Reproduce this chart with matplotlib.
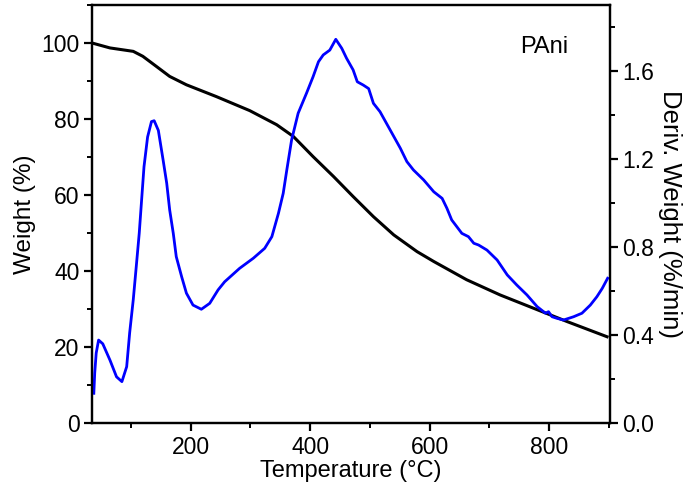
import matplotlib.pyplot as plt
from matplotlib.ticker import MultipleLocator

plt.rcParams['font.family'] = ['Liberation Sans', 'DejaVu Sans']

# TG curve: weight (%)
tg_temp = [35, 65, 104, 120, 143, 165, 193, 243, 299, 344, 372, 405, 439, 472,
           506, 540, 579, 607, 662, 718, 774, 830, 897]
tg_weight = [100, 98.7, 97.8, 96.5, 93.8, 91.2, 89.0, 85.9, 82.2, 78.5, 75.4, 70.1,
             64.9, 59.6, 54.3, 49.5, 45.1, 42.5, 37.7, 33.7, 30.2, 26.7, 22.7]

# DTG curve: derivative weight (%/min)
dtg_temp = [38, 39.5, 42, 46, 53, 65, 76, 85, 93, 98, 104, 109, 114, 118, 122, 128,
            134.5, 139, 146, 154, 160, 165, 171, 176, 185, 193, 204, 218, 232, 246,
            257, 282, 305, 324, 336, 347, 355, 361, 369, 380, 394, 405, 414, 422,
            433, 443, 453, 461, 472, 479, 489, 498, 506, 517, 534, 551, 562, 573,
            590, 607, 621, 629, 637, 654, 665, 674, 682, 696, 713, 730, 746, 763,
            780, 794, 799, 805, 813, 824, 841, 855, 869, 880, 889, 898]
dtg_value = [0.135, 0.227, 0.318, 0.377, 0.36, 0.286, 0.21, 0.188, 0.256, 0.41, 0.56,
             0.71, 0.862, 1.014, 1.165, 1.30, 1.37, 1.374, 1.33, 1.195, 1.09, 0.968,
             0.862, 0.756, 0.665, 0.59, 0.536, 0.517, 0.544, 0.605, 0.642, 0.703,
             0.749, 0.794, 0.847, 0.953, 1.044, 1.15, 1.286, 1.408, 1.499, 1.574,
             1.642, 1.673, 1.695, 1.744, 1.703, 1.658, 1.605, 1.551, 1.536, 1.52,
             1.453, 1.415, 1.332, 1.249, 1.188, 1.15, 1.105, 1.051, 1.021, 0.976,
             0.923, 0.862, 0.847, 0.817, 0.809, 0.786, 0.741, 0.673, 0.627, 0.582,
             0.529, 0.499, 0.506, 0.483, 0.476, 0.468, 0.483, 0.499, 0.536, 0.574,
             0.612, 0.658]

fig = plt.figure(figsize=(6.94, 4.99), dpi=100)
ax = fig.add_axes([0.1326, 0.1523, 0.7464, 0.8377])
ax2 = ax.twinx()

ax.plot(tg_temp, tg_weight, color='black', lw=2.2, zorder=3)
ax2.plot(dtg_temp, dtg_value, color='#0000ff', lw=2.0)

ax.set_xlim(35, 902)
ax.set_ylim(0, 110)
ax2.set_ylim(0, 1.9)

ax.xaxis.set_major_locator(MultipleLocator(200))
ax.xaxis.set_minor_locator(MultipleLocator(100))
ax.yaxis.set_major_locator(MultipleLocator(20))
ax.yaxis.set_minor_locator(MultipleLocator(10))
ax2.yaxis.set_major_locator(MultipleLocator(0.4))
ax2.yaxis.set_minor_locator(MultipleLocator(0.2))
ax2.yaxis.set_major_formatter(plt.FormatStrFormatter('%.1f'))

for a in (ax, ax2):
    for s in a.spines.values():
        s.set_linewidth(1.6)
    a.tick_params(which='major', direction='out', length=6, width=1.6,
                  labelsize=16.5, pad=3)
    a.tick_params(which='minor', direction='out', length=3.5, width=1.4)

ax.set_xlabel('Temperature (°C)', fontsize=17, labelpad=1)
ax.set_ylabel('Weight (%)', fontsize=17.5, labelpad=4)
ax2.set_ylabel('Deriv. Weight (%/min)', fontsize=18.5, rotation=270, labelpad=20)

ax.text(0.873, 0.9, 'PAni', transform=ax.transAxes, fontsize=17,
        ha='center', va='center')

fig.savefig('out.png', dpi=100)
